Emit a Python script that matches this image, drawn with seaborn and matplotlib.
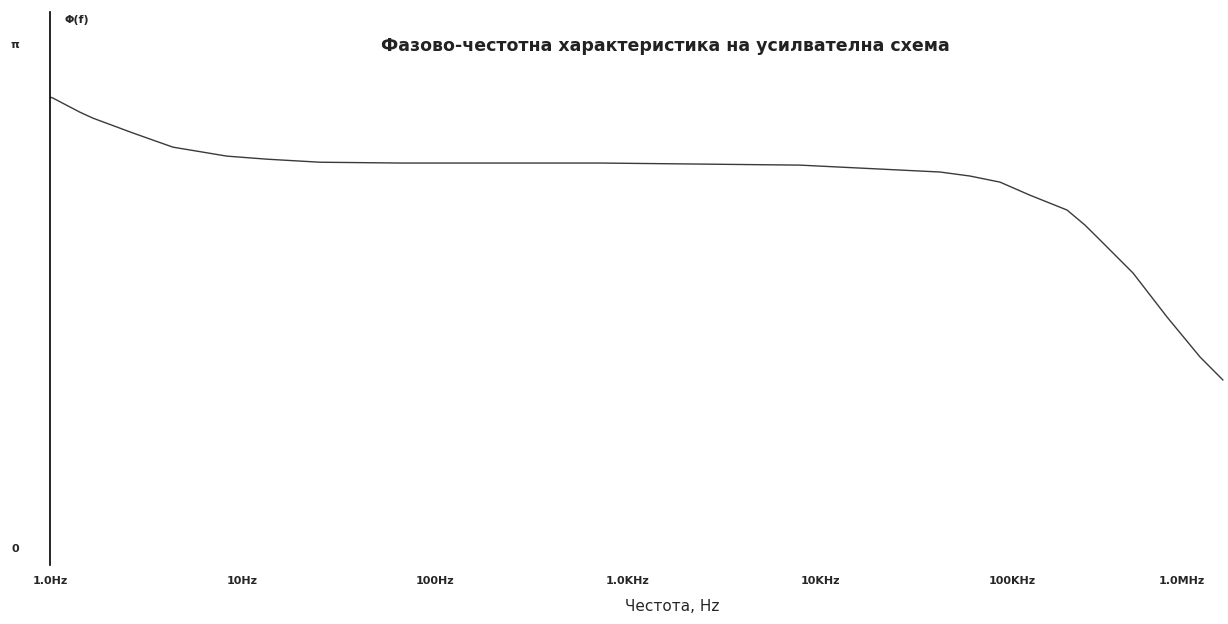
import numpy as np
import pandas as pd
import matplotlib
matplotlib.use("Agg")
import matplotlib.pyplot as plt
import seaborn as sns

# phase response (frequency in Hz, phase in rad)
freq_hz = [1.0, 1.036, 1.43, 1.67, 2.70, 4.35, 8.30, 13.4, 25.3, 65.8,
           720.0, 7870.0, 42000.0, 60100.0, 86100.0, 123000.0, 192000.0,
           238000.0, 285000.0, 423000.0, 635000.0, 942000.0, 1240000.0]
phase_rad = [2.811, 2.805, 2.717, 2.680, 2.587, 2.499, 2.443, 2.424, 2.405, 2.400,
             2.400, 2.387, 2.344, 2.319, 2.281, 2.200, 2.107,
             2.013, 1.920, 1.714, 1.440, 1.191, 1.047]

tick_freqs = [1, 10, 100, 1e3, 1e4, 1e5, 1e6]
tick_labels = ["1.0Hz", "10Hz", "100Hz", "1.0KHz", "10KHz", "100KHz", "1.0MHz"]

title = "Фазово-честотна характеристика на усилвателна схема"


def main():
    sns.set_style("white")
    plt.rcParams["font.family"] = ["DejaVu Sans"]

    df = pd.DataFrame({"f": freq_hz, "phi": phase_rad})

    fig = plt.figure(figsize=(12.28, 6.24), dpi=100)
    ax = fig.add_axes([50 / 1228, 1 - 565 / 624, 1 - 50 / 1228, (565 - 12) / 624])

    sns.lineplot(data=df, x="f", y="phi", ax=ax, color="#3a3a3a", linewidth=1.0)

    ax.set_xscale("log")
    ax.set_xlim(1.0, 10 ** (1178 / 192.5))
    ax.set_ylim(-0.106, np.pi + 0.2)

    ax.set_xticks(tick_freqs)
    ax.set_xticklabels(tick_labels, fontsize=8, fontweight="bold")
    ax.xaxis.set_minor_locator(matplotlib.ticker.NullLocator())
    ax.tick_params(axis="x", length=0, pad=8)
    ax.get_xticklabels()[-1].set_horizontalalignment("right")

    ax.set_yticks([0, np.pi])
    ax.set_yticklabels(["0", "π"], fontsize=8, fontweight="bold")
    ax.tick_params(axis="y", length=0, pad=22)

    for side in ["top", "right", "bottom"]:
        ax.spines[side].set_visible(False)
    ax.spines["left"].set_color("black")
    ax.spines["left"].set_linewidth(1.2)

    ax.set_xlabel("Честота, Hz", fontsize=11)
    ax.xaxis.set_label_coords(0.528, -0.062)
    ax.set_ylabel("")

    ax.text(0.0125, 0.995, "Φ(f)", transform=ax.transAxes, fontsize=8,
            fontweight="bold", va="top", ha="left")
    ax.text(0.522, 0.938, title, transform=ax.transAxes, fontsize=12.5,
            fontweight="bold", va="center", ha="center", color="#222222")

    fig.savefig("out.png", dpi=100)
    plt.close(fig)


if __name__ == "__main__":
    main()
